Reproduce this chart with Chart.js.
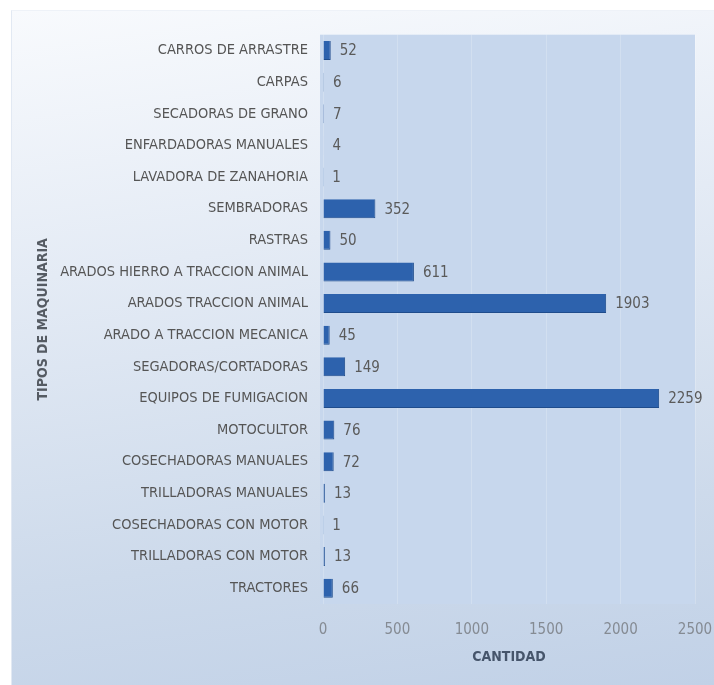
<!DOCTYPE html>
<html>
<head>
<meta charset="utf-8">
<script src="https://cdn.jsdelivr.net/npm/chart.js@4.4.1/dist/chart.umd.min.js"></script>
<style>
  html, body { margin: 0; padding: 0; background: #ffffff; }
  #frame {
    position: absolute; left: 11px; top: 10px; width: 703px; height: 675px;
    background: linear-gradient(172deg, #f8fafd 0%, #e4ebf5 35%, #cddaeb 75%, #c1d1e7 100%);
    border-left: 1px solid #e2e9f3; border-top: 1px solid #eef2f8;
    box-sizing: border-box; overflow: hidden;
  }
  canvas { display: block; }
</style>
</head>
<body>
<div id="frame"><canvas id="maquinaria"></canvas></div>
<script>
const categories = [
  'CARROS DE ARRASTRE', 'CARPAS', 'SECADORAS DE GRANO', 'ENFARDADORAS MANUALES',
  'LAVADORA DE ZANAHORIA', 'SEMBRADORAS', 'RASTRAS', 'ARADOS HIERRO A TRACCION ANIMAL',
  'ARADOS TRACCION ANIMAL', 'ARADO A TRACCION MECANICA', 'SEGADORAS/CORTADORAS',
  'EQUIPOS DE FUMIGACION', 'MOTOCULTOR', 'COSECHADORAS MANUALES', 'TRILLADORAS MANUALES',
  'COSECHADORAS CON MOTOR', 'TRILLADORAS CON MOTOR', 'TRACTORES'
];
const cantidad = [52, 6, 7, 4, 1, 352, 50, 611, 1903, 45, 149, 2259, 76, 72, 13, 1, 13, 66];
const xTicks = [0, 500, 1000, 1500, 2000, 2500];

const FONT = "'Liberation Sans Narrow', 'DejaVu Sans Condensed', sans-serif";

// light blue panel behind the bars
const plotPanel = {
  id: 'plotPanel',
  beforeDraw(chart) {
    const { ctx, chartArea: a } = chart;
    ctx.save();
    ctx.fillStyle = '#c7d7ed';
    ctx.fillRect(a.left - 3, a.top, a.right - a.left + 3, a.bottom - a.top);
    ctx.restore();
  }
};

// value printed just past the end of each bar
const valueLabels = {
  id: 'valueLabels',
  afterDatasetsDraw(chart) {
    const { ctx } = chart;
    const meta = chart.getDatasetMeta(0);
    ctx.save();
    ctx.font = '15px ' + FONT;
    ctx.fillStyle = '#5a5a5a';
    ctx.textAlign = 'left';
    ctx.textBaseline = 'middle';
    meta.data.forEach((bar, i) => {
      ctx.fillText(String(cantidad[i]), bar.x + 9, bar.y + 1);
    });
    ctx.restore();
  }
};

const canvas = document.getElementById('maquinaria');
canvas.width = 703;
canvas.height = 675;

new Chart(canvas.getContext('2d'), {
  type: 'bar',
  data: {
    labels: categories,
    datasets: [{
      data: cantidad,
      backgroundColor: '#2d62ad',
      borderColor: '#1f4c8c',
      borderWidth: { top: 0, bottom: 1, left: 0, right: 1 },
      categoryPercentage: 1,
      barPercentage: 0.6
    }]
  },
  options: {
    indexAxis: 'y',
    responsive: false,
    animation: false,
    layout: { padding: { top: 23, right: 20, left: 0, bottom: 0 } },
    plugins: { legend: { display: false }, tooltip: { enabled: false } },
    scales: {
      x: {
        min: 0,
        max: 2500,
        afterBuildTicks(scale) { scale.ticks = xTicks.map(v => ({ value: v })); },
        afterFit(scale) {
          scale.height = 82;
          scale.paddingLeft = 0;
          scale.paddingRight = 0;
        },
        grid: { color: 'rgba(255,255,255,0.2)', drawTicks: false },
        border: { display: false },
        ticks: {
          color: '#858b93', font: { family: FONT, size: 15 }, padding: 17, maxRotation: 0,
          callback: v => String(v)
        },
        title: {
          display: true, text: 'CANTIDAD', color: '#46556b',
          font: { family: FONT, size: 14, weight: 'bold' },
          padding: { top: 0, bottom: 20 }
        }
      },
      y: {
        afterFit(scale) { scale.width = 311; },
        grid: { display: false, drawTicks: false },
        border: { display: false },
        ticks: { color: '#555555', font: { family: FONT, size: 14.5 }, padding: 15, autoSkip: false },
        title: {
          display: true, text: 'TIPOS DE MAQUINARIA', color: '#555b63',
          font: { family: FONT, size: 14, weight: 'bold' },
          padding: { top: 23, bottom: 0 }
        }
      }
    }
  },
  plugins: [plotPanel, valueLabels]
});
</script>
</body>
</html>
